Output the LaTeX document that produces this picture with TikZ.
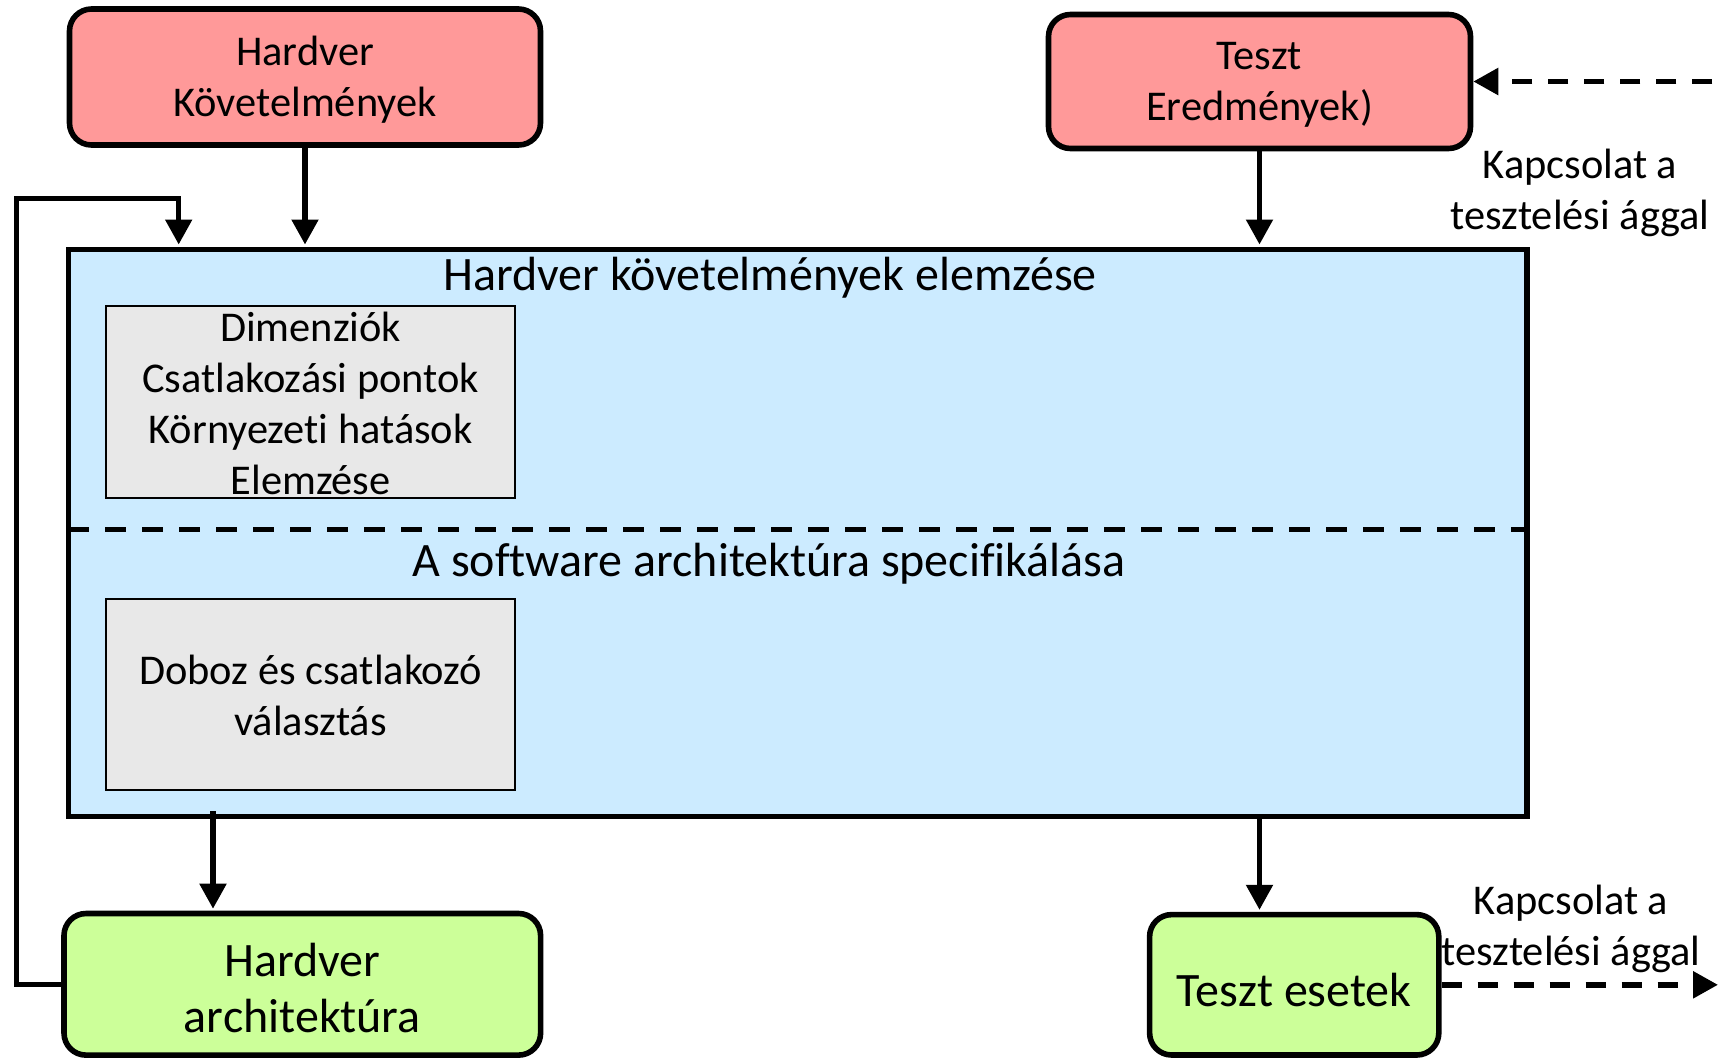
\documentclass[tikz,border=0pt]{standalone}
\usepackage{fontspec}
\setmainfont{Carlito}[Ligatures=NoCommon]
\usetikzlibrary{arrows.meta}
\definecolor{reqred}{HTML}{FF9999}
\definecolor{archgreen}{HTML}{CCFF99}
\definecolor{anablue}{HTML}{CCEBFF}
\definecolor{subgray}{HTML}{E8E8E8}
\begin{document}
\begin{tikzpicture}[x=0.5pt,y=-0.5pt,
  txt/.style={font=\fontsize{21.2}{25.5}\selectfont, align=center, inner sep=0pt},
  bigtxt/.style={font=\fontsize{24}{28.3}\selectfont, align=center, inner sep=0pt},
  titletxt/.style={font=\fontsize{24}{28}\selectfont, inner sep=0pt},
  outbox/.style={draw, line width=2.8pt, rounded corners=11pt, inner sep=0pt},
  reqbox/.style={outbox, fill=reqred},
  archbox/.style={outbox, fill=archgreen},
  bigbox/.style={draw, line width=2.8pt, fill=anablue, inner sep=0pt},
  subbox/.style={draw, line width=0.9pt, fill=subgray, inner sep=0pt},
  arr/.style={line width=2.6pt, -{Triangle[width=13pt,length=12.5pt]}, shorten >=1pt},
  darr/.style={line width=2.8pt, dash pattern=on 10pt off 8pt, -{Triangle[width=13pt,length=12.5pt]}}]
\useasboundingbox (0,0) rectangle (1730,1057);

% input and output boxes
\node[reqbox, minimum width=235.5pt, minimum height=68pt] (hk) at (305,77) {};
\node[txt] (hkt) at (305,79.2) {Hardver\\Követelmények};
\node[reqbox, minimum width=211pt, minimum height=67pt] (te) at (1259.5,81.5) {};
\node[txt] (tet) at (1259.5,84.7) {Teszt\\Eredmények)};
\node[archbox, minimum width=238.3pt, minimum height=70.8pt] (ha) at (302.3,984.3) {};
\node[bigtxt] (hat) at (302.3,988.1) {Hardver\\architektúra};
\node[archbox, minimum width=144.6pt, minimum height=70.2pt] (tes) at (1294.2,984.8) {};
\node[bigtxt] (test) at (1294.2,990.3) {Teszt esetek};

% analysis block
\node[bigbox, minimum width=729.3pt, minimum height=283.6pt] (an) at (797.7,532.9) {};
\node[titletxt] (t1) at (770,278) {Hardver követelmények elemzése};
\node[titletxt] (t2) at (769,563.8) {A software architektúra specifikálása};
\node[subbox, minimum width=204.7pt, minimum height=96pt] (s1) at (310.6,401.6) {};
\node[txt] (s1t) at (310.6,403.3) {Dimenziók\\Csatlakozási pontok\\Környezeti hatások\\Elemzése};
\node[subbox, minimum width=204.7pt, minimum height=95.5pt] (s2) at (310.6,694.5) {};
\node[txt] (s2t) at (310.6,695.6) {Doboz és csatlakozó\\választás};
\coordinate (dl) at (68.4,529.6);
\coordinate (dr) at (1527,529.6);
\draw[line width=2.8pt, dash pattern=on 10.5pt off 8pt] (dl) -- (dr);

% flow arrows
\draw[arr] (hk.south) -- (hk.south |- an.north);
\draw[arr] (te.south) -- (te.south |- an.north);
\coordinate (hastart) at (213,811);
\draw[arr] (hastart) -- (hastart |- ha.north);
\draw[arr] (te.south |- an.south) -- (te.south |- tes.north);

% feedback loop
\coordinate (fbl) at (16.5,198.6);
\coordinate (fbr) at (178.7,198.6);
\draw[arr] (ha.west) -- (ha.west -| fbl) -- (fbl) -- (fbr) -- (fbr |- an.north);

% links to the test branch
\coordinate (fromtest) at (1712.3,81.5);
\draw[darr] (fromtest) -- (te.east);
\node[txt] (k1) at (1580,192.5) {Kapcsolat a\\tesztelési ággal};
\coordinate (totest) at (1718,984.8);
\draw[darr] (tes.east) -- (totest);
\node[txt] (k2) at (1571,929.3) {Kapcsolat a\\tesztelési ággal};
\end{tikzpicture}
\end{document}
